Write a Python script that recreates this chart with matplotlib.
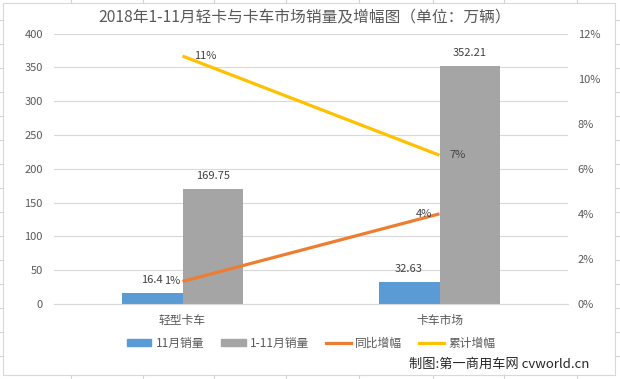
import matplotlib
matplotlib.use("Agg")
import matplotlib.pyplot as plt
from matplotlib.patches import Rectangle, Patch
from matplotlib.lines import Line2D
import numpy as np

plt.rcParams['font.family'] = ['Noto Sans CJK SC', 'DejaVu Sans']

categories = ['轻型卡车', '卡车市场']
sales_nov = [16.4, 32.63]
sales_ytd = [169.75, 352.21]
yoy_growth = [1.0, 4.0]      # %
ytd_growth = [11.0, 6.6]     # %
left_ticks = [0, 50, 100, 150, 200, 250, 300, 350, 400]
right_ticks = [0, 2, 4, 6, 8, 10, 12]
legend_labels = ['11月销量', '1-11月销量', '同比增幅', '累计增幅']
title = '2018年1-11月轻卡与卡车市场销量及增幅图（单位：万辆）'
credit = '制图:第一商用车网 cvworld.cn'

W, H = 620, 379
fig = plt.figure(figsize=(W / 100, H / 100), dpi=100)

def fx(px):
    return px / W

def fy(py):
    return 1 - py / H

# spreadsheet gridlines peeking out around chart frame
for x in [71, 143, 214, 286, 359, 433, 504, 577]:
    fig.add_artist(Line2D([fx(x), fx(x)], [fy(0), fy(3)], color='#D4D4D4', lw=0.8, transform=fig.transFigure))
    fig.add_artist(Line2D([fx(x), fx(x)], [fy(375), fy(379)], color='#D4D4D4', lw=0.8, transform=fig.transFigure))
for y in range(20, 379, 24):
    fig.add_artist(Line2D([fx(0), fx(2.5)], [fy(y), fy(y)], color='#D4D4D4', lw=0.8, transform=fig.transFigure))
    fig.add_artist(Line2D([fx(615), fx(620)], [fy(y), fy(y)], color='#D4D4D4', lw=0.8, transform=fig.transFigure))

# chart frame
fig.add_artist(Rectangle((fx(2.5), fy(375)), fx(615) - fx(2.5), fy(3) - fy(375),
                         transform=fig.transFigure, facecolor='white', edgecolor='#D9D9D9', lw=0.8, zorder=0))

ax = fig.add_axes([fx(54), fy(304), fx(568) - fx(54), fy(33.5) - fy(304)])
ax.set_facecolor('none')
ax2 = ax.twinx()

x = np.arange(len(categories))
w = 0.237
c_blue, c_gray, c_orange, c_yellow = '#5B9BD5', '#A5A5A5', '#ED7D31', '#FFC000'
lab_col = '#404040'
tick_col = '#595959'

ax.bar(x - w / 2, sales_nov, w, color=c_blue, zorder=2)
ax.bar(x + w / 2, sales_ytd, w, color=c_gray, zorder=2)

ax.set_xlim(-0.5, 1.5)
ax.set_ylim(0, 400)
ax.set_yticks(left_ticks)
ax.set_yticklabels([str(t) for t in left_ticks])
ax.grid(axis='y', color='#D9D9D9', lw=0.8, zorder=0)
ax.set_axisbelow(True)
ax.set_xticks(x)
ax.set_xticklabels(categories)
ax.tick_params(axis='y', length=0, pad=8, labelsize=8, labelcolor=tick_col)
ax.tick_params(axis='x', length=0, pad=7, labelsize=8.5, labelcolor=tick_col)
for s in ['top', 'left', 'right']:
    ax.spines[s].set_visible(False)
ax.spines['bottom'].set_color('#D9D9D9')
ax.spines['bottom'].set_linewidth(0.8)

ax2.plot(x, yoy_growth, color=c_orange, lw=2.3, solid_capstyle='butt', zorder=3)
ax2.plot(x, ytd_growth, color=c_yellow, lw=2.3, solid_capstyle='butt', zorder=3)
ax2.set_ylim(0, 12)
ax2.set_yticks(right_ticks)
ax2.set_yticklabels([f'{t}%' for t in right_ticks])
ax2.tick_params(axis='y', length=0, pad=7, labelsize=8, labelcolor=tick_col)
for s in ['top', 'left', 'right', 'bottom']:
    ax2.spines[s].set_visible(False)

# bar value labels
for xi, v in zip(x - w / 2, sales_nov):
    ax.annotate(f'{v:g}', (xi, v), xytext=(0, 9.5), textcoords='offset points',
                ha='center', va='center', fontsize=8, color=lab_col)
for xi, v in zip(x + w / 2, sales_ytd):
    ax.annotate(f'{v:g}', (xi, v), xytext=(0, 9.5), textcoords='offset points',
                ha='center', va='center', fontsize=8, color=lab_col)

# line labels
yoy_offsets = [(-1.5, 'right'), (-5, 'right')]
ytd_offsets = [(8.5, 'left'), (7, 'left')]
for xi, v, (dx, ha) in zip(x, yoy_growth, yoy_offsets):
    ax2.annotate(f'{v:.0f}%', (xi, v), xytext=(dx, 0), textcoords='offset points',
                 ha=ha, va='center', fontsize=8, color=lab_col, zorder=5)
for xi, v, (dx, ha) in zip(x, ytd_growth, ytd_offsets):
    ax2.annotate(f'{v:.0f}%', (xi, v), xytext=(dx, 0), textcoords='offset points',
                 ha=ha, va='center', fontsize=8, color=lab_col, zorder=5)

fig.text(fx(305), fy(18), title, ha='center', va='center', fontsize=11.3, color=tick_col)

handles = [Patch(color=c_blue), Patch(color=c_gray),
           Line2D([], [], color=c_orange, lw=2.3), Line2D([], [], color=c_yellow, lw=2.3)]
fig.legend(handles, legend_labels, ncol=4, loc='center', bbox_to_anchor=(fx(311), fy(343)),
           frameon=False, fontsize=8.5, handlelength=2.1, handleheight=0.55,
           handletextpad=0.35, columnspacing=1.45, borderpad=0, labelcolor=tick_col)

fig.text(fx(589), fy(364), credit, ha='right', va='center', fontsize=9.5, color='#262626')

fig.savefig('out.png', dpi=100)
